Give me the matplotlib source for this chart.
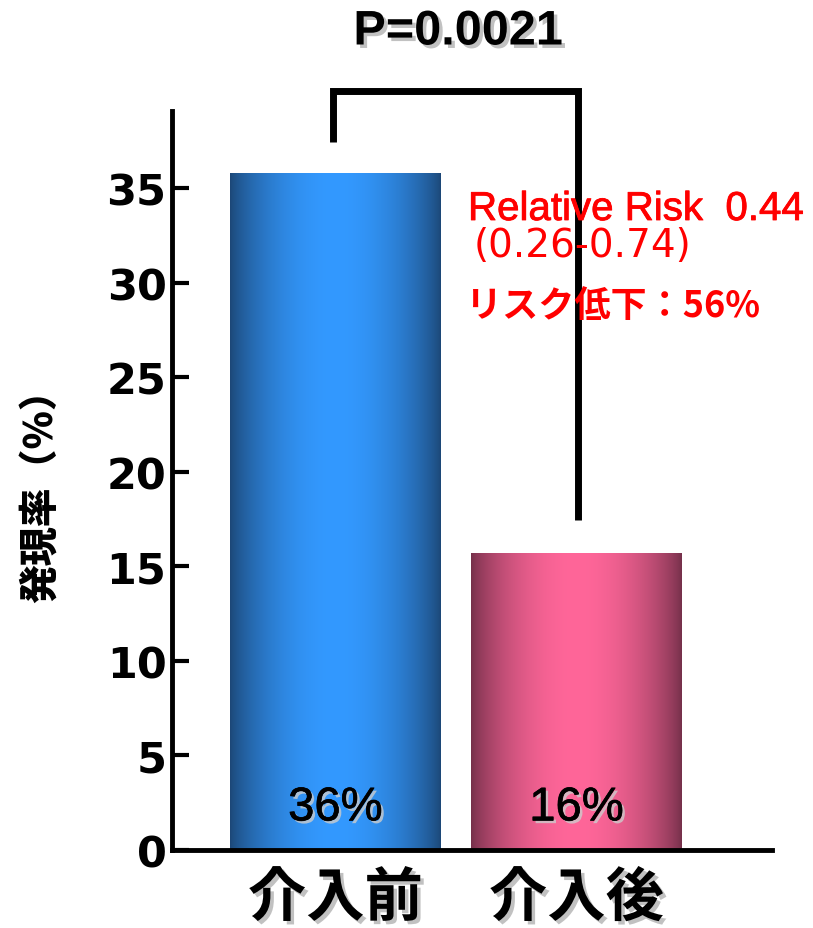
import numpy as np
import matplotlib
matplotlib.use("Agg")
import matplotlib.pyplot as plt
import matplotlib.patheffects as pe
from matplotlib.colors import to_rgb

# Incidence before / after the intervention
groups = ["介入前", "介入後"]
rates = [35.8, 15.7]
edge_colors = ["#1c4776", "#74304a"]
center_colors = ["#3399ff", "#ff6699"]
y_ticks = [0, 5, 10, 15, 20, 25, 30, 35]
p_text = "P=0.0021"
rr_text = "Relative Risk  0.44"
ci_text = "(0.26-0.74)"
reduction_text = "リスク低下：56%"
y_label = "発現率（%）"

W, H = 813, 929
fig = plt.figure(figsize=(W / 100, H / 100), dpi=100)
ax = fig.add_axes([172 / W, 78 / H, 600 / W, 739 / H])

ax.set_xlim(-0.678, 1.811)
ax.set_ylim(0, 39.07)

shadow = [pe.SimplePatchShadow(offset=(2.5, -2.5), shadow_rgbFace="#777777", alpha=0.45), pe.Normal()]

# Cylinder-shaded bars: draw outline-less bars, then clip a horizontal gradient to each
bar_w = 0.875
bars = ax.bar(range(len(rates)), rates, width=bar_w, color="none", edgecolor="none", zorder=2)
t = np.linspace(0, 1, 256)
prof = np.sin(np.pi * t) ** 0.75
for b, ec, cc in zip(bars, edge_colors, center_colors):
    e = np.array(to_rgb(ec))
    c = np.array(to_rgb(cc))
    img = e[None, :] + (c - e)[None, :] * prof[:, None]
    img = img[None, :, :]
    x0 = b.get_x()
    im = ax.imshow(img, extent=[x0, x0 + b.get_width(), 0, b.get_height()],
                   aspect="auto", zorder=2, interpolation="bilinear")
    im.set_clip_path(b)

# Value labels inside each bar
for i, v in enumerate(rates):
    ax.text(i, 2.2, f"{v:.0f}%", ha="center", va="center", fontsize=34,
            family=["Liberation Sans", "DejaVu Sans"], color="black", zorder=4,
            path_effects=[pe.SimplePatchShadow(offset=(2, -2), shadow_rgbFace="#cccccc", alpha=0.8),
                          pe.withStroke(linewidth=0.5, foreground="black")])

# Axes styling
for s in ["top", "right"]:
    ax.spines[s].set_visible(False)
ax.spines["left"].set_linewidth(3.5)
ax.spines["bottom"].set_linewidth(3.5)
ax.set_yticks(y_ticks)
ax.set_yticklabels([str(v) for v in y_ticks], fontsize=31, fontweight="bold",
                   family="DejaVu Sans")
ax.tick_params(axis="y", direction="in", length=12, width=3, pad=4)
ax.set_xticks([])

# Group names under the axis
for i, g in enumerate(groups):
    ax.text(i, -0.066, g, transform=ax.get_xaxis_transform(), ha="center", va="center",
            fontsize=42, fontweight="bold", family=["Noto Sans CJK JP", "DejaVu Sans"],
            path_effects=shadow, clip_on=False)

# Y-axis title
fig.text(41 / W, 1 - 487 / H, y_label, rotation=90, ha="center", va="center",
         fontsize=28, fontweight="black", family=["Noto Sans CJK JP", "DejaVu Sans"])

# Significance bracket
ax.plot([-0.01, -0.01, 1.008, 1.008], [37.44, 40.14, 40.14, 17.45], color="black",
        lw=5, solid_joinstyle="miter", solid_capstyle="butt", clip_on=False, zorder=3)
fig.text(458 / W, 1 - 33 / H, p_text, ha="center", va="center", fontsize=35,
         fontweight="bold", family=["Liberation Sans", "DejaVu Sans"], path_effects=shadow)

# Relative risk annotation
fig.text(468 / W, 1 - 221 / H, rr_text, ha="left", va="baseline", fontsize=29,
         color="red", family=["Liberation Sans", "DejaVu Sans"], zorder=5,
         path_effects=[pe.withStroke(linewidth=0.6, foreground="red")])
fig.text(474 / W, 1 - 257 / H, ci_text, ha="left", va="baseline", fontsize=28,
         color="red", family=["DejaVu Sans"], zorder=5)
fig.text(466 / W, 1 - 307 / H, reduction_text, ha="left", va="center", fontsize=26,
         color="red", fontweight="bold", family=["Noto Sans CJK JP", "DejaVu Sans"], zorder=5)

fig.savefig("out.png", dpi=100)
